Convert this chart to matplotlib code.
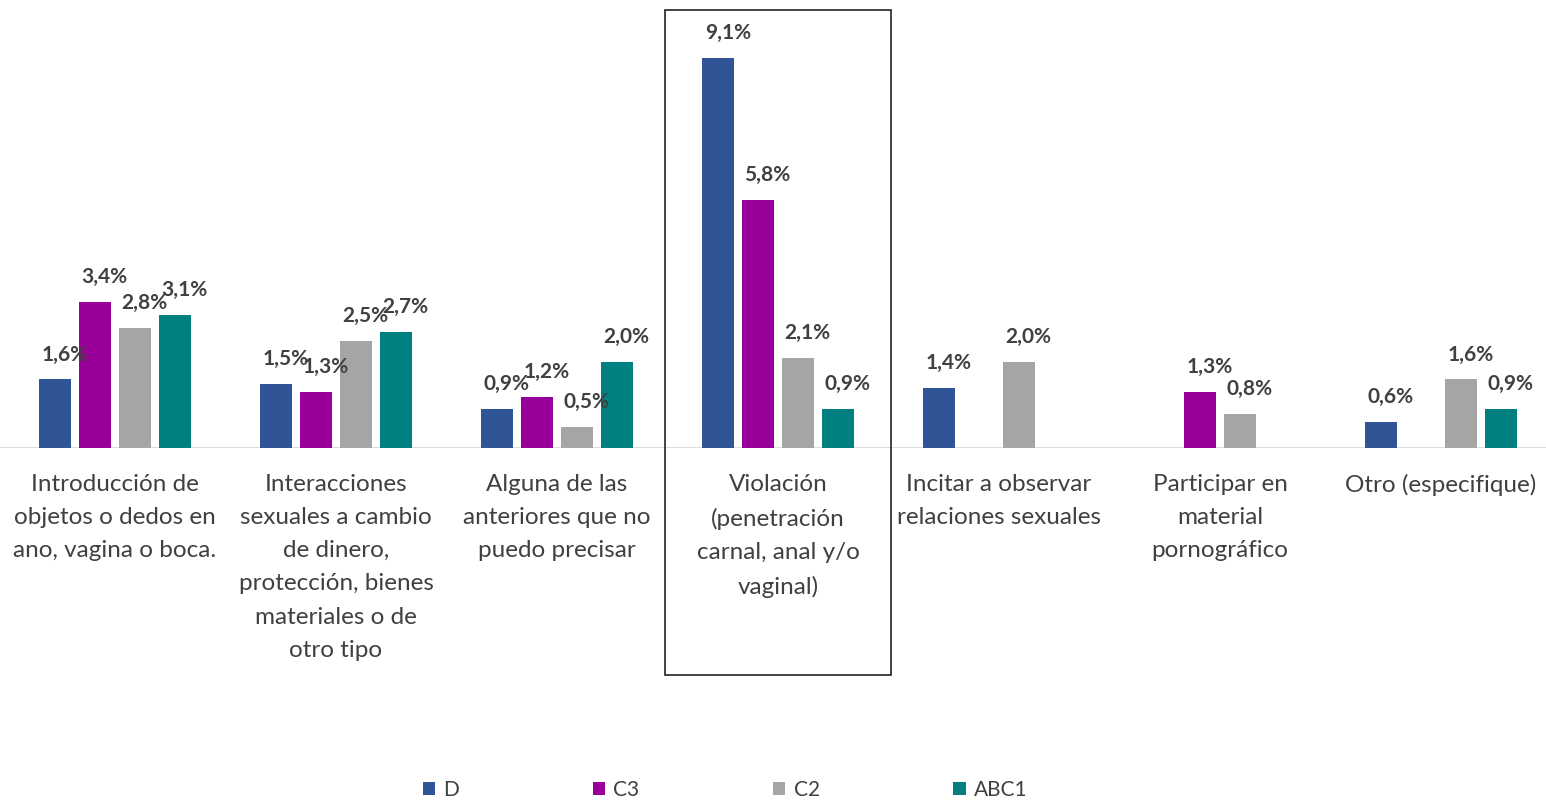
import numpy as np
import matplotlib.pyplot as plt
from matplotlib.patches import Rectangle
from matplotlib.transforms import blended_transform_factory

# Data (percentages)
categories = ['Introducción de\nobjetos o dedos en\nano, vagina o boca.',
              'Interacciones\nsexuales a cambio\nde dinero,\nprotección, bienes\nmateriales o de\notro tipo',
              'Alguna de las\nanteriores que no\npuedo precisar',
              'Violación\n(penetración\ncarnal, anal y/o\nvaginal)',
              'Incitar a observar\nrelaciones sexuales',
              'Participar en\nmaterial\npornográfico',
              'Otro (especifique)']
series_names = ['D', 'C3', 'C2', 'ABC1']
d_vals = [1.6, 1.5, 0.9, 9.1, 1.4, np.nan, 0.6]
c3_vals = [3.4, 1.3, 1.2, 5.8, np.nan, 1.3, np.nan]
c2_vals = [2.8, 2.5, 0.5, 2.1, 2.0, 0.8, 1.6]
abc1_vals = [3.1, 2.7, 2.0, 0.9, np.nan, np.nan, 0.9]
highlight = 3  # Violación

colors = ['#2F5597', '#990099', '#A5A5A5', '#008080']
text_color = '#404040'

plt.rcParams['font.family'] = ['Lato', 'DejaVu Sans']

fig = plt.figure(figsize=(15.46, 8.01), dpi=100)
ax = fig.add_axes([0, 0.4407, 1, 0.5468])

x = np.arange(len(categories))
pitch = 0.181
width = 0.145
all_vals = [d_vals, c3_vals, c2_vals, abc1_vals]

for k, (name, vals) in enumerate(zip(series_names, all_vals)):
    pos = x + (k - 1.5) * pitch
    ax.bar(pos, vals, width=width, color=colors[k], label=name)
    for xp, v in zip(pos, vals):
        if np.isnan(v):
            continue
        lbl = '{:.1f}%'.format(v).replace('.', ',')
        ax.annotate(lbl, (xp, v), xytext=(7, 18), textcoords='offset points',
                    ha='center', va='center', fontsize=15,
                    fontweight='bold', color=text_color)

ax.axhline(0, color='#D9D9D9', lw=2, zorder=0)
ax.set_xlim(-0.52, 6.475)
ax.set_ylim(0, 10.23)
ax.set_xticks(x)
ax.set_xticklabels(categories, fontsize=17.5, color=text_color,
                   linespacing=1.72, va='top')
ax.tick_params(axis='x', length=0, pad=18.5)
ax.set_yticks([])
for s in ax.spines.values():
    s.set_visible(False)

# Box around the highlighted category
trans = blended_transform_factory(ax.transData, fig.transFigure)
ax.add_patch(Rectangle((highlight - 0.511, 0.157), 1.022, 0.8305,
                       transform=trans, fill=False, edgecolor='#222222',
                       lw=1.2, clip_on=False))

fig.legend(loc='center', bbox_to_anchor=(0.469, 0.014), ncol=4,
           frameon=False, fontsize=15, handlelength=0.6, handleheight=0.6,
           handletextpad=0.4, columnspacing=6.4, labelcolor=text_color)

fig.savefig('out.png', dpi=100)
